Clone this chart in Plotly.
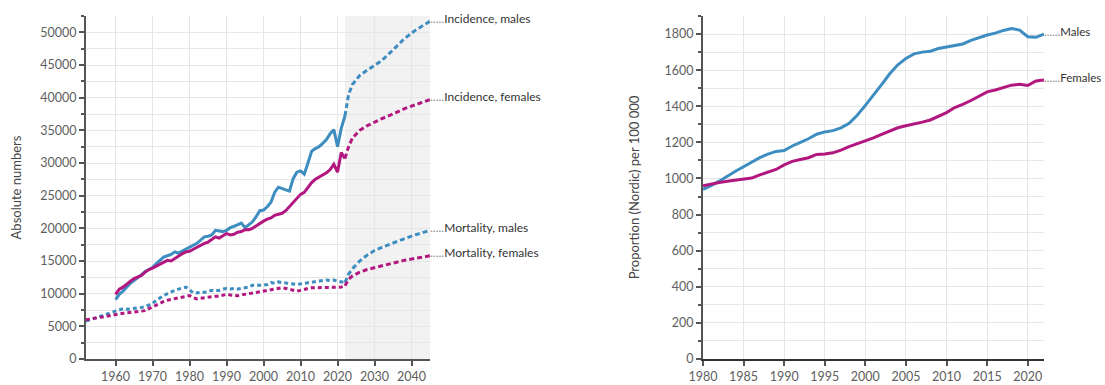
import plotly.graph_objects as go

# ---------------- Left chart data ----------------
inc_years = list(range(1960, 2023))
inc_males = [9100, 9900, 10400, 11000, 11600, 12000, 12400, 12900, 13400, 13700,
             14000, 14600, 15100, 15600, 15800, 16000, 16400, 16200, 16500, 16800,
             17100, 17400, 17700, 18200, 18700, 18800, 19000, 19700, 19600, 19500,
             19700, 20100, 20300, 20600, 20800, 20100, 20500, 21000, 21800, 22700,
             22800, 23300, 24000, 25500, 26300, 26100, 25900, 25700, 27600, 28600,
             28800, 28300, 30000, 31800, 32200, 32500, 33000, 33600, 34500, 35100,
             32500, 35300, 37200]
inc_females = [9900, 10700, 11000, 11500, 11900, 12300, 12600, 12800, 13300, 13700,
               13900, 14200, 14500, 14900, 15100, 15000, 15400, 15800, 16100, 16400,
               16500, 16800, 17100, 17500, 17700, 17900, 18300, 18700, 18500, 18800,
               19200, 19000, 19100, 19400, 19500, 19800, 19800, 20000, 20400, 20800,
               21100, 21400, 21600, 22000, 22200, 22300, 22700, 23300, 24000, 24500,
               25200, 25500, 26300, 27000, 27500, 27800, 28200, 28500, 29000, 29800,
               28600, 31600, 30700]

mort_years = list(range(1952, 2023))
mort_males = [5800, 6000, 6200, 6400, 6600, 6800, 7000, 7200,
              7350, 7500, 7700, 7600, 7650, 7700, 7750, 7900, 8000, 8300,
              8500, 9000, 9400, 9700, 10000, 10300, 10500, 10700, 10800, 11000,
              10600, 10100, 10100, 10300, 10200, 10400, 10500, 10500, 10500, 10700,
              10800, 10700, 10800, 10700, 10800, 10900, 11000, 11300, 11300, 11200,
              11300, 11400, 11700, 11600, 11800, 11700, 11600, 11500, 11400, 11400,
              11500, 11600, 11700, 11800, 11900, 12000, 12100, 12100, 12000, 12100,
              11900, 11800, 11700]
mort_females = [6000, 6100, 6200, 6350, 6450, 6550, 6650, 6800,
                6900, 6950, 7000, 7050, 7100, 7150, 7200, 7300, 7400, 7700,
                8000, 8300, 8600, 8800, 9000, 9100, 9200, 9300, 9500, 9600,
                9700, 9400, 9200, 9300, 9400, 9500, 9600, 9600, 9600, 9800,
                9900, 9800, 9700, 9700, 9800, 9900, 10000, 10200, 10200, 10300,
                10400, 10600, 10700, 10800, 10800, 10900, 10800, 10700, 10500, 10400,
                10500, 10700, 10800, 10900, 10900, 10900, 11000, 11000, 10900, 10900,
                11000, 11000, 11200]

proj_years = [2022, 2023, 2024, 2026, 2028, 2030, 2032, 2035, 2038, 2041, 2045]
proj_inc_males = [37200, 40500, 42000, 43400, 44200, 44900, 45700, 47300, 49000, 50300, 51700]
proj_inc_females = [30700, 32500, 33800, 35000, 35700, 36300, 36800, 37500, 38300, 38900, 39700]
proj_mort_males = [11700, 13000, 13800, 15000, 15900, 16600, 17100, 17800, 18400, 19000, 19700]
proj_mort_females = [11200, 12200, 12700, 13300, 13700, 14000, 14300, 14700, 15100, 15400, 15800]

left_labels = ["Incidence, males", "Incidence, females", "Mortality, males", "Mortality, females"]

# ---------------- Right chart data ----------------
rate_years = list(range(1980, 2023))
rate_males = [940, 960, 985, 1015, 1040, 1065, 1090, 1115, 1135, 1150,
              1155, 1180, 1200, 1220, 1245, 1258, 1265, 1280, 1305, 1350,
              1405, 1460, 1520, 1580, 1630, 1665, 1690, 1700, 1705, 1720,
              1728, 1740, 1745, 1765, 1780, 1795, 1805, 1820, 1830, 1822,
              1785, 1782, 1800]
rate_females = [960, 970, 978, 985, 990, 995, 1002, 1020, 1035, 1050,
                1075, 1095, 1105, 1115, 1133, 1135, 1142, 1157, 1177, 1192,
                1207, 1225, 1244, 1263, 1281, 1292, 1300, 1312, 1324, 1345,
                1365, 1393, 1410, 1432, 1457, 1480, 1490, 1504, 1517, 1522,
                1515, 1540, 1545]
right_labels = ["Males", "Females"]

BLUE = "#3d8dc0"
MAG = "#b2177f"
FONT = "Lato"
TICKC = "#5e5e5e"
GRID = "#e6e6e6"
AXC = "#555555"
W = 3

fig = go.Figure()

def add(x, y, color, dash, xa="x", ya="y"):
    fig.add_trace(go.Scatter(x=x, y=y, mode="lines", xaxis=xa, yaxis=ya,
                             line=dict(color=color, width=W, dash=dash),
                             showlegend=False, hoverinfo="skip"))

MORT_DASH = "4px,3px"
PROJ_DASH = "5px,3px"

add(mort_years, mort_males, BLUE, MORT_DASH)
add(mort_years, mort_females, MAG, MORT_DASH)
add(proj_years, proj_mort_males, BLUE, PROJ_DASH)
add(proj_years, proj_mort_females, MAG, PROJ_DASH)
add(inc_years, inc_males, BLUE, "solid")
add(inc_years, inc_females, MAG, "solid")
add(proj_years, proj_inc_males, BLUE, PROJ_DASH)
add(proj_years, proj_inc_females, MAG, PROJ_DASH)

add(rate_years, rate_males, BLUE, "solid", "x2", "y2")
add(rate_years, rate_females, MAG, "solid", "x2", "y2")

LEADER_L = "<span style='color:#8a8a8a'>.....</span>"
LEADER_R = "<span style='color:#8a8a8a'>......</span>"
ann = []
left_ends = [proj_inc_males[-1], proj_inc_females[-1], proj_mort_males[-1], proj_mort_females[-1]]
for lab, yv in zip(left_labels, left_ends):
    ann.append(dict(x=proj_years[-1], y=yv, xref="x", yref="y", text=LEADER_L + lab,
                    showarrow=False, xanchor="left", yanchor="middle", yshift=3, xshift=-2,
                    font=dict(family=FONT, size=12, color="#333333")))
for lab, yv in zip(right_labels, [rate_males[-1], rate_females[-1]]):
    ann.append(dict(x=rate_years[-1], y=yv, xref="x2", yref="y2", text=LEADER_R + lab,
                    showarrow=False, xanchor="left", yanchor="middle", yshift=3, xshift=-2,
                    font=dict(family=FONT, size=11.5, color="#333333")))

fig.update_layout(
    width=1105, height=385,
    margin=dict(l=86, r=61, t=16, b=26, autoexpand=False),
    paper_bgcolor="white", plot_bgcolor="white",
    font=dict(family=FONT, size=12, color=TICKC),
    annotations=ann,
    shapes=[dict(type="rect", xref="x", yref="paper", x0=2022, x1=2045, y0=0, y1=1,
                 fillcolor="#f2f2f2", line=dict(width=0), layer="below")],
    xaxis=dict(domain=[0, 0.3591], range=[1952, 2045], tickmode="array",
               tickvals=list(range(1960, 2041, 10)), ticks="outside", ticklen=5,
               tickcolor=AXC, tickwidth=1.5, showline=True, linecolor=AXC, linewidth=2,
               showgrid=True, gridcolor=GRID, zeroline=False, automargin=False,
               tickfont=dict(family=FONT, size=12.5, color=TICKC)),
    yaxis=dict(domain=[0, 1], range=[0, 52500], dtick=5000, tickformat="d",
               ticks="outside", ticklen=5, automargin=False,
               tickcolor=AXC, tickwidth=1.5, showline=True, linecolor=AXC, linewidth=2,
               showgrid=True, gridcolor=GRID, zeroline=False,
               minor=dict(dtick=2500, ticks="outside", ticklen=3, tickcolor=AXC,
                          showgrid=True, gridcolor=GRID),
               tickfont=dict(family=FONT, size=12.5, color=TICKC),
               title=dict(text="Absolute numbers", standoff=16,
                          font=dict(family=FONT, size=13, color="#444444"))),
    xaxis2=dict(domain=[0.644, 1], anchor="y2", range=[1980, 2022], tick0=1980, dtick=5,
                ticks="outside", ticklen=5, tickcolor=AXC, tickwidth=1.5, automargin=False,
                showline=True, linecolor="#333333", linewidth=2,
                showgrid=True, gridcolor=GRID, zeroline=False,
                tickfont=dict(family=FONT, size=12.5, color=TICKC)),
    yaxis2=dict(domain=[0, 1], anchor="x2", range=[0, 1900], dtick=200, ticks="outside",
                ticklen=5, tickcolor=AXC, tickwidth=1.5, showline=True, linecolor=AXC,
                linewidth=2, showgrid=True, gridcolor=GRID, zeroline=False, automargin=False,
                minor=dict(dtick=100, ticks="outside", ticklen=3, tickcolor=AXC,
                           showgrid=True, gridcolor=GRID),
                tickfont=dict(family=FONT, size=12.5, color=TICKC),
                title=dict(text="Proportion (Nordic) per 100 000", standoff=22,
                           font=dict(family=FONT, size=13, color="#444444"))),
)

fig.write_html("out.html", config={"displayModeBar": False},
               post_script="document.body.style.margin='0';document.body.style.overflow='hidden';")
